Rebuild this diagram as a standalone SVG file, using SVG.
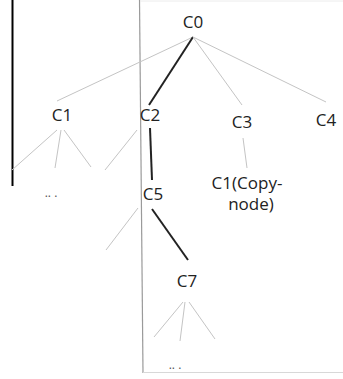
<svg xmlns="http://www.w3.org/2000/svg" width="343" height="379" viewBox="0 0 343 379">
<style>
text{font-family:"Open Sans","Liberation Sans",sans-serif;font-size:17px;fill:#222;text-anchor:middle}
.g{stroke:#c4c4c4;stroke-width:1;fill:none}
.b{stroke:#222;stroke-width:2;fill:none}
.dots{font-size:12px;fill:#555}
</style>
<rect width="343" height="379" fill="#fff"/>
<g id="frame">
<line x1="12.5" y1="0" x2="12.5" y2="186" stroke="#000" stroke-width="2"/>
<line x1="139.5" y1="0" x2="143" y2="373" stroke="#9a9a9a" stroke-width="1.2"/>
<line x1="140" y1="1" x2="343" y2="1" stroke="#ececec" stroke-width="1"/>
<line x1="143" y1="372.5" x2="343" y2="372.5" stroke="#d8d8d8" stroke-width="1"/>
</g>
<g id="connectors">
<line class="g" x1="193" y1="37" x2="57" y2="101"/>
<line class="b" x1="193" y1="37" x2="149" y2="105"/>
<line class="g" x1="193" y1="37" x2="242" y2="105"/>
<line class="g" x1="193" y1="37" x2="326" y2="102"/>
<line class="g" x1="57" y1="130" x2="12" y2="170"/>
<line class="g" x1="61" y1="130" x2="55" y2="168"/>
<line class="g" x1="64" y1="130" x2="91" y2="167"/>
<line class="g" x1="137" y1="130" x2="105" y2="170"/>
<line class="b" x1="150" y1="128" x2="152" y2="180"/>
<line class="g" x1="243" y1="138" x2="247" y2="168"/>
<line class="g" x1="138" y1="208" x2="106" y2="250"/>
<line class="b" x1="152" y1="209" x2="188" y2="260"/>
<line class="g" x1="183" y1="302" x2="154" y2="337"/>
<line class="g" x1="185" y1="302" x2="180" y2="341"/>
<line class="g" x1="189" y1="302" x2="215" y2="339"/>
</g>
<g id="C0"><text x="193" y="28">C0</text></g>
<g id="C1"><text x="62" y="121">C1</text></g>
<g id="C2"><text x="150" y="121">C2</text></g>
<g id="C3"><text x="242" y="128">C3</text></g>
<g id="C4"><text x="326" y="126">C4</text></g>
<g id="C1copy"><text x="247" y="189">C1(Copy-</text><text x="251" y="210">node)</text></g>
<g id="C5"><text x="153" y="200">C5</text></g>
<g id="C7"><text x="187" y="287">C7</text></g>
<g id="dots1"><text class="dots" x="51" y="197">.. .</text></g>
<g id="dots2"><text class="dots" x="175" y="369">.. .</text></g>
</svg>
